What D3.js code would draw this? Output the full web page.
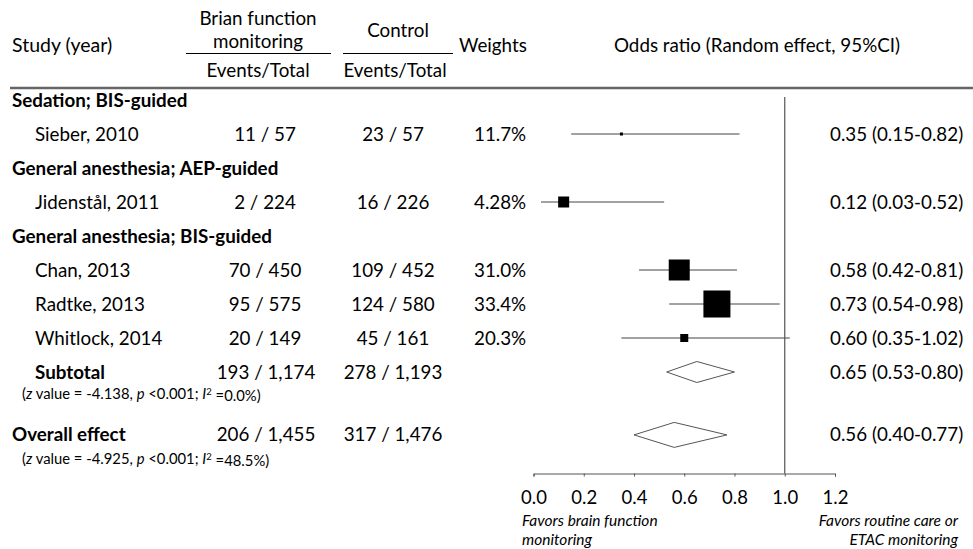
<!DOCTYPE html>
<html>
<head>
<meta charset="utf-8">
<script src="https://cdn.jsdelivr.net/npm/d3@7"></script>
<style>
  body { margin: 0; background: #fff; }
  svg text { font-family: Lato, "Noto Sans", sans-serif; fill: #000; }
</style>
</head>
<body>
<svg id="forest" width="973" height="549"></svg>
<script>
// groups and studies
const groupNames = ["Sedation; BIS-guided", "General anesthesia; AEP-guided", "General anesthesia; BIS-guided"];
const studyNames = ["Sieber, 2010", "Jidenstål, 2011", "Chan, 2013", "Radtke, 2013", "Whitlock, 2014"];
const studyGroup = [0, 1, 2, 2, 2];
const trtEvents = [11, 2, 70, 95, 20];
const trtTotal = [57, 224, 450, 575, 149];
const ctlEvents = [23, 16, 109, 124, 45];
const ctlTotal = [57, 226, 452, 580, 161];
const weights = ["11.7%", "4.28%", "31.0%", "33.4%", "20.3%"];
const oddsRatio = [0.35, 0.12, 0.58, 0.73, 0.60];
const ciLow = [0.15, 0.03, 0.42, 0.54, 0.35];
const ciHigh = [0.82, 0.52, 0.81, 0.98, 1.02];

// pooled
const pooledNames = ["Subtotal", "Overall effect"];
const pooledTrt = ["193 / 1,174", "206 / 1,455"];
const pooledCtl = ["278 / 1,193", "317 / 1,476"];
const pooledOR = [0.65, 0.56];
const pooledLow = [0.53, 0.40];
const pooledHigh = [0.80, 0.77];
const pooledZ = ["-4.138", "-4.925"];
const pooledI2 = ["0.0%", "48.5%"];

const xTicks = [0, 0.2, 0.4, 0.6, 0.8, 1.0, 1.2];

// box sizes (px)
const boxPx = [3, 11, 21, 27, 8];
const diamondPx = [21, 25];

const svg = d3.select("#forest");
const fmt2 = d3.format(".2f");
const x = d3.scaleLinear().domain([0, 1.2]).range([533.5, 835]);
const rowY = d3.scaleLinear().domain([0, 1]).range([100, 134]);
const FS = 18.8;

// ---- header
const head = svg.append("g");
head.append("text").attr("x", 12).attr("y", 52).style("font-size", "19.5px").text("Study (year)");
head.append("text").attr("x", 258).attr("y", 25).attr("text-anchor", "middle").style("font-size", FS + "px").text("Brian function");
head.append("text").attr("x", 258).attr("y", 48).attr("text-anchor", "middle").style("font-size", FS + "px").text("monitoring");
head.append("text").attr("x", 258).attr("y", 77).attr("text-anchor", "middle").style("font-size", FS + "px").text("Events/Total");
head.append("text").attr("x", 398).attr("y", 37).attr("text-anchor", "middle").style("font-size", FS + "px").text("Control");
head.append("text").attr("x", 395).attr("y", 77).attr("text-anchor", "middle").style("font-size", FS + "px").text("Events/Total");
head.append("text").attr("x", 459).attr("y", 52).style("font-size", FS + "px").text("Weights");
head.append("text").attr("x", 757).attr("y", 52).attr("text-anchor", "middle").style("font-size", FS + "px").text("Odds ratio (Random effect, 95%CI)");
head.append("line").attr("x1", 186).attr("x2", 331).attr("y1", 53.5).attr("y2", 53.5).attr("stroke", "#000").attr("stroke-width", 1);
head.append("line").attr("x1", 343).attr("x2", 453).attr("y1", 53.5).attr("y2", 53.5).attr("stroke", "#000").attr("stroke-width", 1);
head.append("line").attr("x1", 10).attr("x2", 973).attr("y1", 88).attr("y2", 88).attr("stroke", "#666").attr("stroke-width", 2.5);

// ---- build rows
const rows = [];
let r = 0;
groupNames.forEach((g, gi) => {
  rows.push({ kind: "group", label: g, y: rowY(r++) });
  studyNames.forEach((s, i) => {
    if (studyGroup[i] !== gi) return;
    rows.push({
      kind: "study", label: s, y: rowY(r++), i: i,
      trt: trtEvents[i] + " / " + trtTotal[i],
      ctl: ctlEvents[i] + " / " + ctlTotal[i],
      w: weights[i], or: oddsRatio[i], lo: ciLow[i], hi: ciHigh[i]
    });
  });
});
rows.push({ kind: "pooled", label: pooledNames[0], indent: 35, y: rowY(r), p: 0 });
rows.push({ kind: "pooled", label: pooledNames[1], indent: 12, y: rowY(r + 1.85), p: 1 });

const g = svg.append("g");
const txt = (sel, xx, yy, s, opts = {}) =>
  sel.append("text").attr("x", xx).attr("y", yy).attr("dy", "0.35em")
    .attr("text-anchor", opts.anchor || "start")
    .style("font-size", (opts.size || FS) + "px")
    .style("font-weight", opts.bold ? "700" : "400")
    .text(s);

rows.forEach((d) => {
  if (d.kind === "group") {
    txt(g, 12, d.y, d.label, { bold: true });
  } else if (d.kind === "study") {
    txt(g, 35, d.y, d.label);
    txt(g, 265, d.y, d.trt, { anchor: "middle" });
    txt(g, 393, d.y, d.ctl, { anchor: "middle" });
    txt(g, 474, d.y, d.w);
    txt(g, 830, d.y, `${fmt2(d.or)} (${fmt2(d.lo)}-${fmt2(d.hi)})`);
    g.append("line").attr("x1", x(d.lo)).attr("x2", x(d.hi)).attr("y1", d.y).attr("y2", d.y)
      .attr("stroke", "#444").attr("stroke-width", 1);
    const s = boxPx[d.i];
    g.append("rect").attr("x", x(d.or) - s / 2).attr("y", d.y - s / 2).attr("width", s).attr("height", s)
      .attr("fill", "#000");
  } else {
    const p = d.p;
    txt(g, d.indent, d.y, d.label, { bold: true });
    txt(g, 266, d.y, pooledTrt[p], { anchor: "middle" });
    txt(g, 393, d.y, pooledCtl[p], { anchor: "middle" });
    txt(g, 830, d.y, `${fmt2(pooledOR[p])} (${fmt2(pooledLow[p])}-${fmt2(pooledHigh[p])})`);
    const h = diamondPx[p] / 2;
    const pts = [[x(pooledLow[p]), d.y], [x(pooledOR[p]), d.y - h], [x(pooledHigh[p]), d.y], [x(pooledOR[p]), d.y + h]];
    g.append("path").attr("d", d3.line()(pts) + "Z").attr("fill", "#fff").attr("stroke", "#555").attr("stroke-width", 1);
    const note = g.append("text").attr("x", 22).attr("y", d.y + 22 + p * 2).attr("dy", "0.35em").style("font-size", "14.8px");
    note.append("tspan").text("(");
    note.append("tspan").style("font-style", "italic").text("z");
    note.append("tspan").text(` value = ${pooledZ[p]}, `);
    note.append("tspan").style("font-style", "italic").text("p");
    note.append("tspan").text(" <0.001; ");
    note.append("tspan").style("font-style", "italic").text("I");
    note.append("tspan").attr("dy", "-0.4em").style("font-size", "9.5px").text("2");
    note.append("tspan").attr("dy", "0.4em").text(` =${pooledI2[p]})`);
  }
});

// ---- axis and null line
const axisY = 473.5;
svg.append("line").attr("x1", x(1)).attr("x2", x(1)).attr("y1", 97).attr("y2", axisY)
  .attr("stroke", "#555").attr("stroke-width", 1.2);

const ax = svg.append("g").attr("transform", `translate(0,${axisY})`)
  .call(d3.axisBottom(x).tickValues(xTicks).tickSize(3).tickSizeOuter(3).tickPadding(14).tickFormat(d3.format(".1f")));
ax.select(".domain").attr("stroke", "#555");
ax.selectAll(".tick line").attr("stroke", "#555");
ax.selectAll(".tick text").style("font-family", "Lato, sans-serif").style("font-size", "18.5px").attr("fill", "#000");

const fav = svg.append("g").style("font-style", "italic").style("font-size", "15.5px");
fav.append("text").attr("x", 522).attr("y", 526).text("Favors brain function");
fav.append("text").attr("x", 522).attr("y", 545).text("monitoring");
fav.append("text").attr("x", 958).attr("y", 526).attr("text-anchor", "end").text("Favors routine care or");
fav.append("text").attr("x", 958).attr("y", 545).attr("text-anchor", "end").text("ETAC monitoring");
</script>
</body>
</html>
